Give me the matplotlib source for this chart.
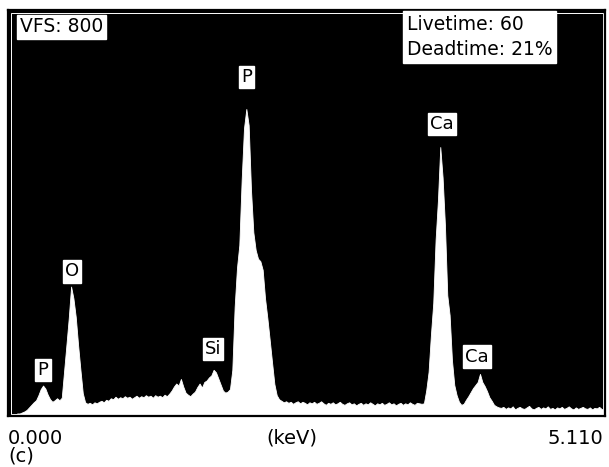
import matplotlib.pyplot as plt
import numpy as np
from matplotlib.patches import Rectangle

plt.rcParams['font.family'] = ['DejaVu Sans']

# EDS spectrum, 0.02 keV per channel, counts (VFS 800)
kev_per_channel = 0.02
counts = [
    2, 2, 3, 3, 5, 5, 7, 9, 12, 17,
    22, 27, 31, 41, 53, 60, 54, 42, 33, 28,
    31, 35, 31, 36, 88, 140, 193, 255, 232, 195,
    140, 91, 45, 27, 24, 26, 23, 27, 25, 28,
    30, 27, 32, 30, 35, 33, 38, 34, 37, 35,
    39, 36, 38, 34, 37, 40, 36, 39, 37, 41,
    38, 40, 36, 41, 38, 40, 37, 42, 39, 44,
    50, 58, 64, 60, 73, 58, 46, 42, 39, 44,
    48, 57, 64, 56, 67, 70, 76, 80, 91, 86,
    74, 62, 50, 46, 48, 53, 91, 215, 292, 337,
    465, 567, 605, 573, 445, 362, 327, 310, 305, 288,
    232, 193, 150, 106, 63, 41, 33, 30, 27, 29,
    26, 28, 24, 27, 29, 25, 28, 26, 23, 27,
    25, 28, 24, 26, 29, 25, 22, 26, 24, 27,
    23, 25, 28, 24, 22, 25, 27, 23, 25, 21,
    24, 26, 22, 25, 23, 27, 24, 21, 25, 23,
    26, 22, 24, 27, 23, 25, 21, 24, 26, 22,
    25, 23, 27, 24, 22, 26, 25, 24, 25, 51,
    87, 160, 223, 347, 425, 530, 470, 376, 238, 199,
    110, 61, 41, 28, 22, 24, 32, 39, 47, 55,
    61, 67, 83, 67, 59, 49, 37, 30, 22, 19,
    17, 16, 18, 14, 17, 15, 19, 13, 16, 18,
    15, 14, 17, 20, 15, 13, 16, 18, 14, 17,
    15, 19, 14, 16, 13, 17, 15, 18, 14, 16,
    19, 15, 13, 17, 14, 16, 18, 15, 14, 17,
    13, 16, 15, 18, 14, 12,
]
energy = np.arange(len(counts)) * kev_per_channel

# peak labels: text, energy (keV), height (counts) of the label
peak_names = ['P', 'O', 'Si', 'P', 'Ca', 'Ca']
peak_kev = [0.30, 0.548, 1.755, 2.042, 3.716, 4.015]
peak_label_y = [91, 285, 132, 668, 575, 117]

fig = plt.figure(figsize=(6.09, 4.67), dpi=100)
ax = fig.add_axes([8 / 609, 51 / 467, 597 / 609, 406 / 467])
ax.set_facecolor('black')
ax.fill_between(energy, counts, color='white', lw=0.6, edgecolor='white')
ax.set_xlim(0, 5.11)
ax.set_ylim(0, 800)
ax.set_xticks([])
ax.set_yticks([])
for s in ax.spines.values():
    s.set_color('black')
    s.set_linewidth(1.6)
# thin white inner line of the frame
dx, dy = 2.5 / 597, 2.5 / 406
ax.add_patch(Rectangle((dx, dy), 1 - 2 * dx, 1 - 2 * dy, transform=ax.transAxes,
                       fill=False, edgecolor='white', lw=0.7))

box = dict(boxstyle='square,pad=0.12', fc='white', ec='white')
for name, x, y in zip(peak_names, peak_kev, peak_label_y):
    ax.text(x, y, name, ha='center', va='center', fontsize=13, bbox=box)

fig.text(20 / 609, 1 - 27 / 467, 'VFS: 800', ha='left', va='center', fontsize=13.5,
         bbox=dict(boxstyle='square,pad=0.15', fc='white', ec='white'))
fig.text(407 / 609, 1 - 15 / 467, 'Livetime: 60\nDeadtime: 21%', ha='left', va='top',
         fontsize=13.5, linespacing=1.4,
         bbox=dict(boxstyle='square,pad=0.2', fc='white', ec='white'))

fig.text(8 / 609, 1 - 438 / 467, '0.000', ha='left', va='center', fontsize=14)
fig.text(292 / 609, 1 - 438 / 467, '(keV)', ha='center', va='center', fontsize=14)
fig.text(603 / 609, 1 - 438 / 467, '5.110', ha='right', va='center', fontsize=14)
fig.text(8 / 609, 1 - 456 / 467, '(c)', ha='left', va='center', fontsize=14)

fig.savefig('out.png', dpi=100, facecolor='white')
